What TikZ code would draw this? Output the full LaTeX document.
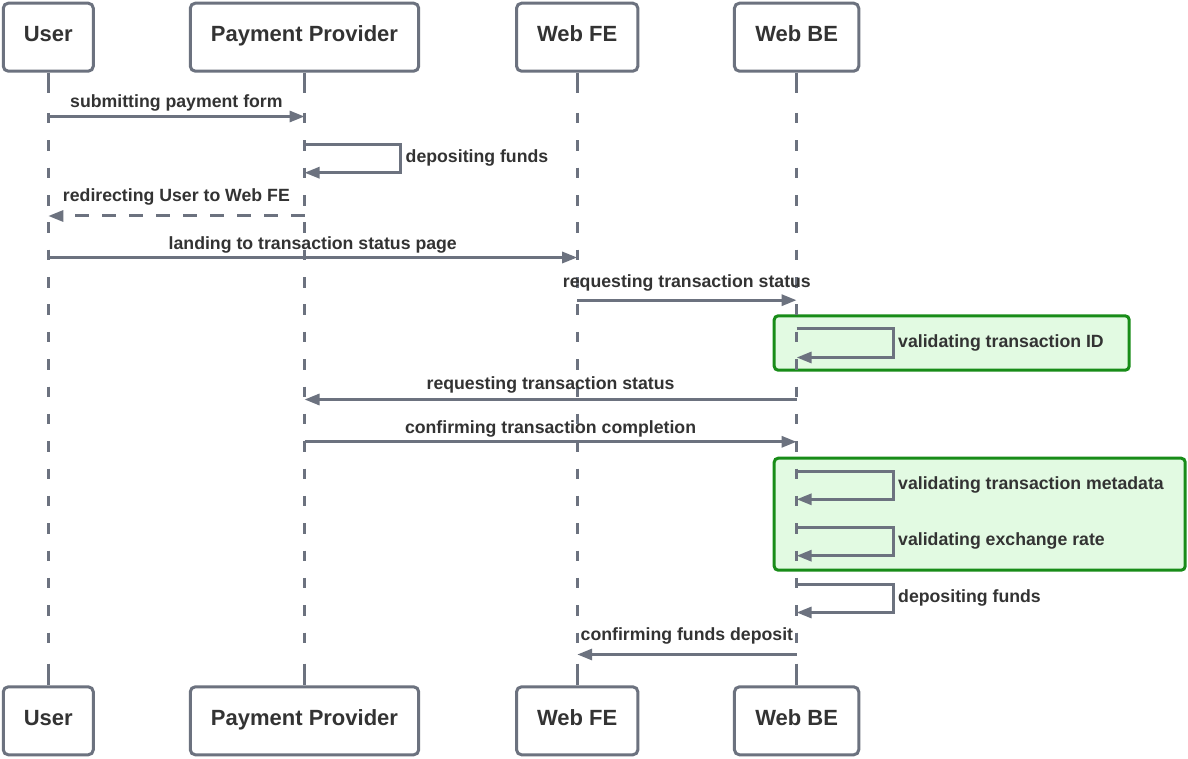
\documentclass[tikz,border=0pt]{standalone}
\usepackage{fontspec}
\setmainfont{Liberation Sans}
\usetikzlibrary{arrows.meta}
\definecolor{linegray}{RGB}{108,114,127}
\definecolor{textgray}{RGB}{51,51,51}
\definecolor{notefill}{RGB}{226,250,226}
\definecolor{notedraw}{RGB}{24,140,24}

\begin{document}
\begin{tikzpicture}[x=1pt,y=-1pt,
  actor/.style={draw=linegray, line width=3pt, rounded corners=5pt, fill=white,
    minimum height=68pt, inner sep=0pt, text height=15.6pt, text depth=6pt,
    font=\fontsize{22}{26}\selectfont\bfseries, text=textgray},
  lifeline/.style={draw=linegray, line width=3.2pt},
  lifedash/.style={lifeline, dash pattern=on 10.5pt off 16.85pt},
  msg/.style={draw=linegray, line width=3pt, -{Triangle[length=15pt,width=11pt]}},
  reply/.style={msg, dash pattern=on 14pt off 13pt},
  lbl/.style={font=\fontsize{17.7}{20}\selectfont\bfseries, text=textgray, inner sep=0pt},
  note/.style={draw=notedraw, fill=notefill, line width=3pt, rounded corners=4pt, inner sep=0pt}
]
\useasboundingbox[fill=white] (0,0) rectangle (1188,759);

% validation groups on the Web BE lifeline
\node[note, minimum width=355pt, minimum height=54.4pt] (grpId) at (951.7,343) {};
\node[note, minimum width=411pt, minimum height=112pt] (grpMeta) at (979.7,514.2) {};

% participants, top and bottom
\node[actor, minimum width=90pt]    (userT) at (48.3,37.2)  {User};
\node[actor, minimum width=228.4pt] (ppT)   at (304.5,37.2) {Payment Provider};
\node[actor, minimum width=121.3pt] (feT)   at (577.2,37.2) {Web FE};
\node[actor, minimum width=124.3pt] (beT)   at (796.6,37.2) {Web BE};
\node[actor, minimum width=90pt]    (userB) at (48.3,720.8)  {User};
\node[actor, minimum width=228.4pt] (ppB)   at (304.5,720.8) {Payment Provider};
\node[actor, minimum width=121.3pt] (feB)   at (577.2,720.8) {Web FE};
\node[actor, minimum width=124.3pt] (beB)   at (796.6,720.8) {Web BE};

% lifelines: solid stubs at both ends, dashed in between
\coordinate (stubTop) at (0,93.5);
\coordinate (dashA)   at (0,113);
\coordinate (dashB)   at (0,643);
\coordinate (stubBot) at (0,663.5);
\foreach \p in {user,pp,fe,be}{
  \draw[lifeline] (\p T.south) -- (\p T |- stubTop);
  \draw[lifedash] (\p T |- dashA) -- (\p T |- dashB);
  \draw[lifeline] (\p T |- stubBot) -- (\p B.north);
}

% message rows
\coordinate (m1) at (0,116.5);
\coordinate (s1a) at (0,144.2);  \coordinate (s1b) at (0,172.7);
\coordinate (m2) at (0,216);
\coordinate (m3) at (0,257.5);
\coordinate (m4) at (0,300.2);
\coordinate (s2a) at (0,328.5);  \coordinate (s2b) at (0,357.5);
\coordinate (m5) at (0,399.5);
\coordinate (m6) at (0,441.8);
\coordinate (s3a) at (0,471.2);  \coordinate (s3b) at (0,499.3);
\coordinate (s4a) at (0,527.7);  \coordinate (s4b) at (0,555.7);
\coordinate (s5a) at (0,584.2);  \coordinate (s5b) at (0,612.5);
\coordinate (m7) at (0,654.5);
\coordinate (ppLoop) at (400.5,0);
\coordinate (beLoop) at (893,0);

\draw[msg] (userT |- m1) -- node[lbl, anchor=base, yshift=9.4pt] (t1) {submitting payment form} (ppT |- m1);

\draw[msg] (ppT |- s1a) -- (ppLoop |- s1a) |- (ppT |- s1b);
\path (ppLoop |- s1a) -- node[lbl, anchor=base west, xshift=5pt, yshift=-4.3pt] (t2) {depositing funds} (ppLoop |- s1b);

\draw[reply] (ppT |- m2) -- node[lbl, anchor=base, yshift=14pt] (t3) {redirecting User to Web FE} (userT |- m2);

\draw[msg] (userT |- m3) -- node[lbl, anchor=base, yshift=8.4pt] (t4) {landing to transaction status page} (feT |- m3);

\draw[msg] (feT |- m4) -- node[lbl, anchor=base, yshift=12.3pt] (t5) {requesting transaction status} (beT |- m4);

\draw[msg] (beT |- s2a) -- (beLoop |- s2a) |- (beT |- s2b);
\path (beLoop |- s2a) -- node[lbl, anchor=base west, xshift=5pt, yshift=-4pt] (t6) {validating transaction ID} (beLoop |- s2b);

\draw[msg] (beT |- m5) -- node[lbl, anchor=base, yshift=10pt] (t7) {requesting transaction status} (ppT |- m5);

\draw[msg] (ppT |- m6) -- node[lbl, anchor=base, yshift=8.4pt] (t8) {confirming transaction completion} (beT |- m6);

\draw[msg] (beT |- s3a) -- (beLoop |- s3a) |- (beT |- s3b);
\path (beLoop |- s3a) -- node[lbl, anchor=base west, xshift=5pt, yshift=-4pt] (t9) {validating transaction metadata} (beLoop |- s3b);

\draw[msg] (beT |- s4a) -- (beLoop |- s4a) |- (beT |- s4b);
\path (beLoop |- s4a) -- node[lbl, anchor=base west, xshift=5pt, yshift=-4pt] (t10) {validating exchange rate} (beLoop |- s4b);

\draw[msg] (beT |- s5a) -- (beLoop |- s5a) |- (beT |- s5b);
\path (beLoop |- s5a) -- node[lbl, anchor=base west, xshift=5pt, yshift=-4pt] (t11) {depositing funds} (beLoop |- s5b);

\draw[msg] (beT |- m7) -- node[lbl, anchor=base, yshift=13.6pt] (t12) {confirming funds deposit} (feT |- m7);
\end{tikzpicture}
\end{document}
